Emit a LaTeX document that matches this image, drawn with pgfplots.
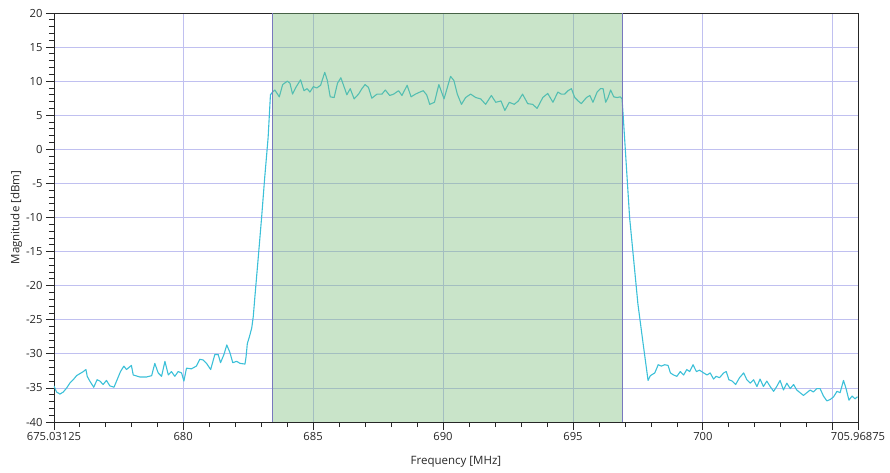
\documentclass[border=0pt]{standalone}
\usepackage{pgfplots}
\pgfplotsset{compat=1.18}
\usepackage{fontspec}
\setmainfont{Open Sans}
\definecolor{curve}{RGB}{60,192,216}
\definecolor{gridc}{RGB}{192,192,240}
\definecolor{band}{RGB}{120,188,120}
\definecolor{bandedge}{RGB}{120,120,190}
\begin{document}
\begin{tikzpicture}
\begin{axis}[
  scale only axis, width=804pt, height=409pt,
  xmin=675.03125, xmax=705.96875, ymin=-40, ymax=20,
  xtick={675.03125,680,685,690,695,700,705,705.96875},
  xticklabels={675.03125,680,685,690,695,700,,705.96875},
  minor xtick={676,677,678,679,681,682,683,684,686,687,688,689,691,692,693,694,696,697,698,699,701,702,703,704},
  ytick distance=5, minor y tick num=4,
  xtick pos=left, ytick pos=left, tick align=outside,
  major tick length=8pt, minor tick length=5pt,
  every tick/.style={black!85, line width=0.8pt},
  grid=major,
  major grid style={gridc, line width=0.8pt},
  axis line style={black!85, line width=0.9pt},
  /pgf/number format/assume math mode=true,
  tick label style={font=\fontsize{11.2}{13}\selectfont, text=black!85},
  label style={font=\fontsize{11.5}{13}\selectfont, text=black!85},
  xticklabel style={yshift=1pt},
  xlabel={Frequency [MHz]}, ylabel={Magnitude [dBm]},
  xlabel style={yshift=-9pt}, ylabel style={yshift=-3pt},
]
\addplot[curve, line width=1.1pt, line join=round] coordinates {
(675.03,-34.7)(675.13,-35.6)(675.26,-35.9)(675.39,-35.6)(675.52,-35.0)(675.64,-34.3)(675.77,-33.8)(675.90,-33.2)
(676.03,-32.9)(676.16,-32.6)(676.26,-32.3)(676.31,-33.3)(676.41,-34.0)(676.56,-34.9)(676.69,-33.8)(676.80,-34.0)
(676.92,-34.5)(677.05,-33.9)(677.18,-34.7)(677.34,-34.9)(677.46,-33.8)(677.59,-32.6)(677.72,-31.8)(677.82,-32.3)
(678.01,-31.7)(678.08,-33.1)(678.34,-33.4)(678.59,-33.4)(678.79,-33.2)(678.91,-31.4)(679.04,-32.8)(679.17,-33.3)
(679.30,-31.1)(679.43,-33.1)(679.55,-32.6)(679.68,-33.3)(679.81,-32.6)(679.94,-32.8)(680.03,-34.0)(680.13,-32.1)
(680.32,-32.2)(680.51,-31.8)(680.64,-30.8)(680.77,-30.9)(680.90,-31.4)(681.06,-32.3)(681.22,-30.1)(681.35,-30.1)
(681.44,-31.3)(681.57,-30.1)(681.68,-28.7)(681.80,-29.8)(681.91,-31.3)(682.06,-31.1)(682.19,-31.4)(682.38,-31.5)
(682.42,-30.5)(682.47,-28.5)(682.55,-27.5)(682.64,-26.2)(682.70,-24.5)(682.76,-21.7)(682.89,-15.9)(683.02,-10.0)
(683.14,-4.1)(683.27,1.7)(683.36,8.0)(683.44,8.4)
(683.53,8.7)(683.70,7.7)(683.83,9.5)(684.01,10.0)(684.11,9.7)(684.21,8.1)(684.34,9.1)(684.52,10.2)
(684.65,8.6)(684.77,8.9)(684.88,8.4)(685.01,9.2)(685.14,9.0)(685.29,9.4)(685.45,11.3)(685.55,10.1)
(685.66,7.7)(685.81,7.6)(685.94,9.7)(686.07,10.5)(686.20,9.1)(686.30,8.0)(686.43,8.9)(686.58,7.4)
(686.75,8.1)(686.88,8.9)(687.00,9.5)(687.13,9.1)(687.26,7.5)(687.46,8.1)(687.65,8.1)(687.78,8.7)
(687.95,7.9)(688.10,8.1)(688.29,8.6)(688.42,7.9)(688.62,9.4)(688.77,7.7)(688.94,8.1)(689.11,8.4)
(689.24,8.6)(689.37,8.0)(689.49,6.6)(689.67,6.9)(689.84,9.5)(690.04,7.4)(690.29,10.7)(690.42,10.1)
(690.55,8.1)(690.71,6.6)(690.87,7.6)(691.06,8.1)(691.26,7.6)(691.45,7.4)(691.64,6.6)(691.86,7.9)
(692.03,6.9)(692.23,7.1)(692.38,5.7)(692.55,6.9)(692.74,6.6)(692.90,7.1)(693.06,8.1)(693.26,6.7)
(693.45,6.6)(693.62,6.0)(693.84,7.6)(694.03,8.2)(694.23,6.9)(694.42,8.4)(694.55,8.1)(694.68,8.1)
(694.81,8.6)(694.94,8.9)(695.07,7.6)(695.20,7.1)(695.32,6.7)(695.52,7.6)(695.65,7.9)(695.77,6.9)
(695.93,8.4)(696.06,8.9)(696.16,8.9)(696.26,6.9)(696.35,7.6)(696.45,8.7)(696.57,7.7)(696.70,7.6)
(696.82,7.7)(696.89,7.4)
(696.93,5.1)(697.18,-10.0)(697.50,-22.7)(697.70,-28.5)(697.89,-33.9)(697.98,-33.2)
(698.15,-32.8)(698.28,-31.6)(698.40,-31.8)(698.53,-31.6)(698.66,-31.7)(698.75,-32.8)(698.87,-33.1)(699.00,-33.3)
(699.13,-32.6)(699.26,-33.1)(699.38,-32.3)(699.49,-32.6)(699.62,-31.6)(699.75,-32.6)(699.87,-32.4)(700.03,-32.8)
(700.16,-33.1)(700.28,-32.8)(700.41,-33.7)(700.51,-33.3)(700.64,-33.5)(700.80,-32.8)(700.90,-32.6)(701.00,-33.8)
(701.13,-34.0)(701.26,-34.5)(701.41,-33.5)(701.57,-32.8)(701.69,-33.8)(701.82,-34.3)(701.95,-33.8)(702.08,-34.8)
(702.20,-33.7)(702.33,-34.8)(702.46,-34.0)(702.59,-34.8)(702.72,-35.5)(702.84,-34.8)(702.97,-33.9)(703.10,-35.3)
(703.23,-34.3)(703.36,-35.1)(703.49,-34.5)(703.61,-35.3)(703.74,-35.7)(703.87,-36.1)(704.00,-35.7)(704.13,-35.3)
(704.25,-35.6)(704.38,-35.1)(704.51,-35.1)(704.64,-36.2)(704.77,-36.9)(704.90,-36.7)(705.03,-36.3)(705.16,-35.5)
(705.28,-35.7)(705.41,-33.9)(705.51,-35.1)(705.62,-36.8)(705.74,-36.2)(705.85,-36.6)(705.95,-36.3)
};
\addplot[draw=none, fill=band, fill opacity=0.4] coordinates {(683.45,-40)(683.45,20)(696.89,20)(696.89,-40)} -- cycle;
\addplot[bandedge, line width=0.9pt] coordinates {(683.45,-40)(683.45,20)};
\addplot[bandedge, line width=0.9pt] coordinates {(696.89,-40)(696.89,20)};
\end{axis}
\pgfresetboundingbox
\path (-54pt,-51pt) rectangle (836pt,422pt);
\end{tikzpicture}
\end{document}
